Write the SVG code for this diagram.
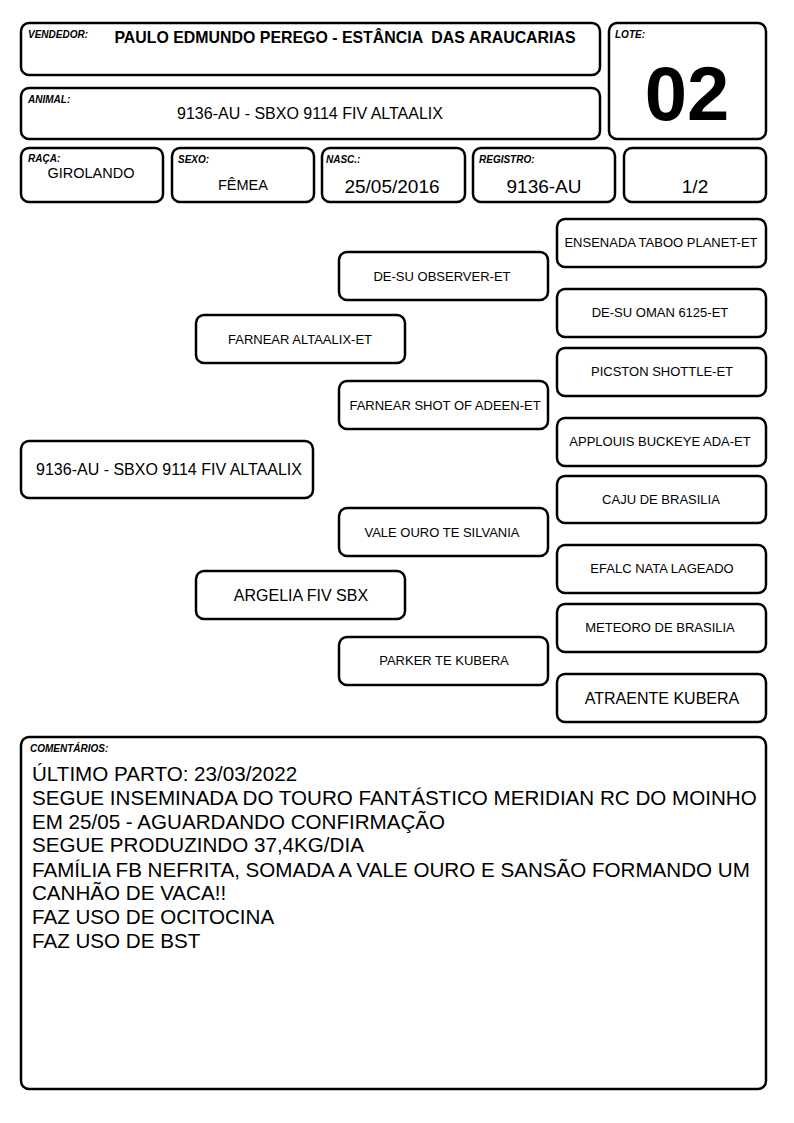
<svg xmlns="http://www.w3.org/2000/svg" width="794" height="1123" viewBox="0 0 794 1123">
<style>
.b{fill:#fff;stroke:#000;stroke-width:2.5}
.lbl{font-family:"Liberation Sans",Arial,sans-serif;font-size:10px;font-weight:bold;font-style:italic;fill:#000}
.t{font-family:"Liberation Sans",Arial,sans-serif;fill:#000;text-anchor:middle}
.p{font-size:13px}
.c{font-family:"Liberation Sans",Arial,sans-serif;font-size:20.6px;fill:#000}
</style>
<rect width="794" height="1123" fill="#fff"/>
<g id="vendedor"><rect class="b" x="21" y="23" width="579" height="52" rx="8"/><text class="lbl" x="28" y="38">VENDEDOR:</text><text class="t" x="345" y="43" font-size="15.9" font-weight="bold" xml:space="preserve">PAULO EDMUNDO PEREGO - ESTÂNCIA  DAS ARAUCARIAS</text></g>
<g id="lote"><rect class="b" x="609" y="23" width="157" height="116" rx="8"/><text class="lbl" x="615" y="38">LOTE:</text><text class="t" x="687" y="120" font-size="76" font-weight="bold">02</text></g>
<g id="animal"><rect class="b" x="21" y="88" width="579" height="51" rx="8"/><text class="lbl" x="28" y="103">ANIMAL:</text><text class="t" x="310" y="119" font-size="16">9136-AU - SBXO 9114 FIV ALTAALIX</text></g>
<g id="raca"><rect class="b" x="21" y="148" width="142" height="54" rx="8"/><text class="lbl" x="28" y="162">RAÇA:</text><text class="t" x="91" y="178" font-size="14.5">GIROLANDO</text></g>
<g id="sexo"><rect class="b" x="172" y="148" width="142" height="54" rx="8"/><text class="lbl" x="178" y="163">SEXO:</text><text class="t" x="243" y="190" font-size="14.5">FÊMEA</text></g>
<g id="nasc"><rect class="b" x="322" y="148" width="143" height="54" rx="8"/><text class="lbl" x="326" y="163">NASC.:</text><text class="t" x="392" y="193" font-size="19">25/05/2016</text></g>
<g id="registro"><rect class="b" x="473" y="148" width="142" height="54" rx="8"/><text class="lbl" x="479" y="163">REGISTRO:</text><text class="t" x="544" y="193" font-size="19">9136-AU</text></g>
<g id="fracao"><rect class="b" x="624" y="148" width="142" height="54" rx="8"/><text class="t" x="695" y="193" font-size="19">1/2</text></g>
<g id="subject"><rect class="b" x="21" y="441" width="292" height="57" rx="8"/><text class="t" x="169" y="475" font-size="16">9136-AU - SBXO 9114 FIV ALTAALIX</text></g>
<g id="sire"><rect class="b" x="196" y="315" width="209" height="48" rx="8"/><text class="t p" x="300" y="344">FARNEAR ALTAALIX-ET</text></g>
<g id="dam"><rect class="b" x="196" y="571" width="209" height="48" rx="8"/><text class="t" x="301" y="601" font-size="16">ARGELIA FIV SBX</text></g>
<g id="ss"><rect class="b" x="339" y="252" width="209" height="48" rx="8"/><text class="t p" x="442" y="281">DE-SU OBSERVER-ET</text></g>
<g id="sd"><rect class="b" x="339" y="381" width="209" height="48" rx="8"/><text class="t p" x="445" y="410">FARNEAR SHOT OF ADEEN-ET</text></g>
<g id="ds"><rect class="b" x="339" y="508" width="209" height="48" rx="8"/><text class="t p" x="442" y="537">VALE OURO TE SILVANIA</text></g>
<g id="dd"><rect class="b" x="339" y="637" width="209" height="48" rx="8"/><text class="t p" x="444" y="665">PARKER TE KUBERA</text></g>
<g id="sss"><rect class="b" x="557" y="219" width="209" height="48" rx="8"/><text class="t p" x="661" y="247">ENSENADA TABOO PLANET-ET</text></g>
<g id="ssd"><rect class="b" x="557" y="289" width="209" height="48" rx="8"/><text class="t p" x="660" y="317">DE-SU OMAN 6125-ET</text></g>
<g id="sds"><rect class="b" x="557" y="348" width="209" height="48" rx="8"/><text class="t p" x="662" y="376">PICSTON SHOTTLE-ET</text></g>
<g id="sdd"><rect class="b" x="557" y="418" width="209" height="48" rx="8"/><text class="t p" x="660" y="446">APPLOUIS BUCKEYE ADA-ET</text></g>
<g id="dss"><rect class="b" x="557" y="476" width="209" height="47" rx="8"/><text class="t p" x="661" y="504">CAJU DE BRASILIA</text></g>
<g id="dsd"><rect class="b" x="557" y="545" width="209" height="48" rx="8"/><text class="t p" x="662" y="573">EFALC NATA LAGEADO</text></g>
<g id="dds"><rect class="b" x="557" y="604" width="209" height="48" rx="8"/><text class="t p" x="660" y="632">METEORO DE BRASILIA</text></g>
<g id="ddd"><rect class="b" x="557" y="674" width="209" height="48" rx="8"/><text class="t" x="662" y="704" font-size="16">ATRAENTE KUBERA</text></g>
<g id="connectors"></g>
<g id="comentarios"><rect class="b" x="21" y="737" width="745" height="352" rx="8"/><text class="lbl" x="30" y="752">COMENTÁRIOS:</text>
<text class="c" x="32" y="781">ÚLTIMO PARTO: 23/03/2022</text>
<text class="c" x="32" y="805">SEGUE INSEMINADA DO TOURO FANTÁSTICO MERIDIAN RC DO MOINHO</text>
<text class="c" x="32" y="829">EM 25/05 - AGUARDANDO CONFIRMAÇÃO</text>
<text class="c" x="32" y="852">SEGUE PRODUZINDO 37,4KG/DIA</text>
<text class="c" x="32" y="877">FAMÍLIA FB NEFRITA, SOMADA A VALE OURO E SANSÃO FORMANDO UM</text>
<text class="c" x="32" y="900">CANHÃO DE VACA!!</text>
<text class="c" x="32" y="924">FAZ USO DE OCITOCINA</text>
<text class="c" x="32" y="948">FAZ USO DE BST</text>
</g>
</svg>
